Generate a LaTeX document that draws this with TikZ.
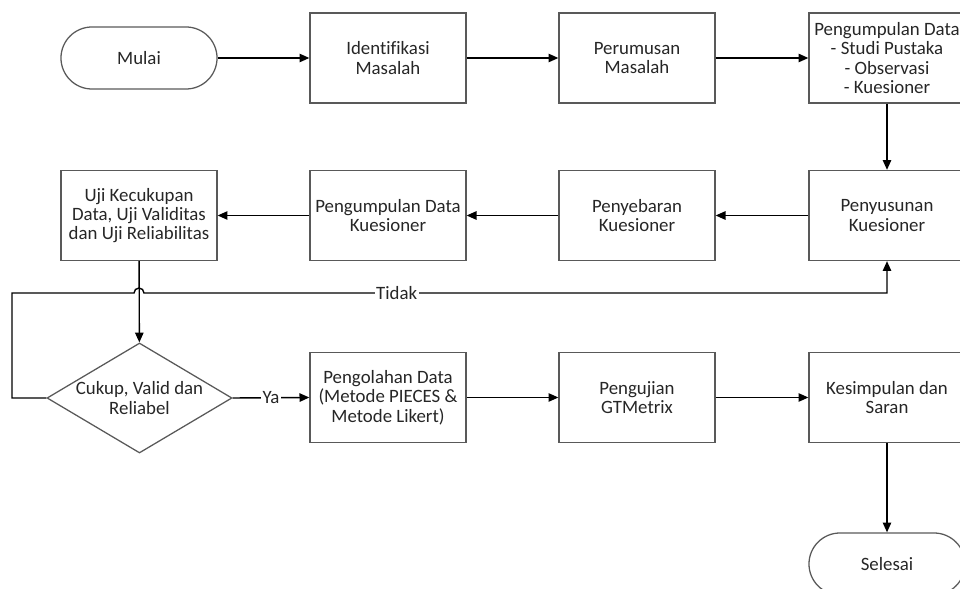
\documentclass[tikz,border=0pt]{standalone}
\usepackage{fontspec}
\setmainfont{Carlito}[Ligatures={NoCommon}]
\usetikzlibrary{shapes.geometric,arrows.meta}
\definecolor{boxline}{HTML}{595959}
\definecolor{txt}{HTML}{262626}

\begin{document}
\begin{tikzpicture}[x=0.025cm,y=-0.025cm,
	font=\fontsize{13.4}{13.8}\selectfont, text=txt,
	box/.style={draw=boxline,line width=0.9pt,minimum width=3.9cm,minimum height=2.25cm,align=center,inner sep=1pt},
	term/.style={draw=boxline,line width=0.9pt,rounded corners=0.775cm,minimum width=3.9cm,minimum height=1.55cm},
	decide/.style={draw=boxline,line width=0.9pt,diamond,inner sep=0pt,minimum width=4.625cm,minimum height=2.75cm},
	arr/.style={line width=1pt,-{Triangle[length=7pt,width=6pt]}},
	lbl/.style={fill=white,inner sep=1pt}]
	\useasboundingbox (0,0) rectangle (960,589);
	% baris atas
	\node[term] (mulai) at (139,58) {Mulai};
	\node[box] (ident) at (388,58) {Identifikasi\\Masalah};
	\node[box] (rumus) at (637,58) {Perumusan\\Masalah};
	\node[box] (kumpul) at (887,58) {Pengumpulan Data\\- Studi Pustaka\\- Observasi\\- Kuesioner};
	% baris tengah
	\node[box] (susun) at (887,215.5) {Penyusunan\\Kuesioner};
	\node[box] (sebar) at (637,215.5) {Penyebaran\\Kuesioner};
	\node[box] (kumpulk) at (388,215.5) {Pengumpulan Data\\Kuesioner};
	\node[box] (uji) at (139,215.5) {Uji Kecukupan\\Data, Uji Validitas\\dan Uji Reliabilitas};
	% baris bawah
	\node[decide] (cek) at (139.5,398) {};
	\node[align=center] (cektxt) at (139.5,398) {Cukup, Valid dan\\Reliabel};
	\node[box] (olah) at (388,397.5) {Pengolahan Data\\(Metode PIECES \&\\Metode Likert)};
	\node[box] (gtm) at (637,397.5) {Pengujian\\GTMetrix};
	\node[box] (simpul) at (887,397.5) {Kesimpulan dan\\Saran};
	\node[term] (selesai) at (887,564) {Selesai};

	\draw[arr] (mulai) -- (ident);
	\draw[arr] (ident) -- (rumus);
	\draw[arr] (rumus) -- (kumpul);
	\draw[arr] (kumpul) -- (susun);
	\draw[arr] (susun) -- (sebar);
	\draw[arr] (sebar) -- (kumpulk);
	\draw[arr] (kumpulk) -- (uji);
	\draw[arr] (uji) -- (cek);
	\draw[arr] (cek.east) -- node[lbl]{Ya} (olah.west);
	\draw[arr] (olah) -- (gtm);
	\draw[arr] (gtm) -- (simpul);
	\draw[arr] (simpul) -- (selesai);

	\coordinate (kiri) at (12,293);
	\coordinate (hop) at (134,293);
	\coordinate (kanan) at (887,293);
	\draw[arr] (cek.west) -| (kiri) -- (hop) arc (180:0:0.125cm) -- node[lbl,pos=0.34]{Tidak} (kanan) -- (susun.south);
\end{tikzpicture}
\end{document}
